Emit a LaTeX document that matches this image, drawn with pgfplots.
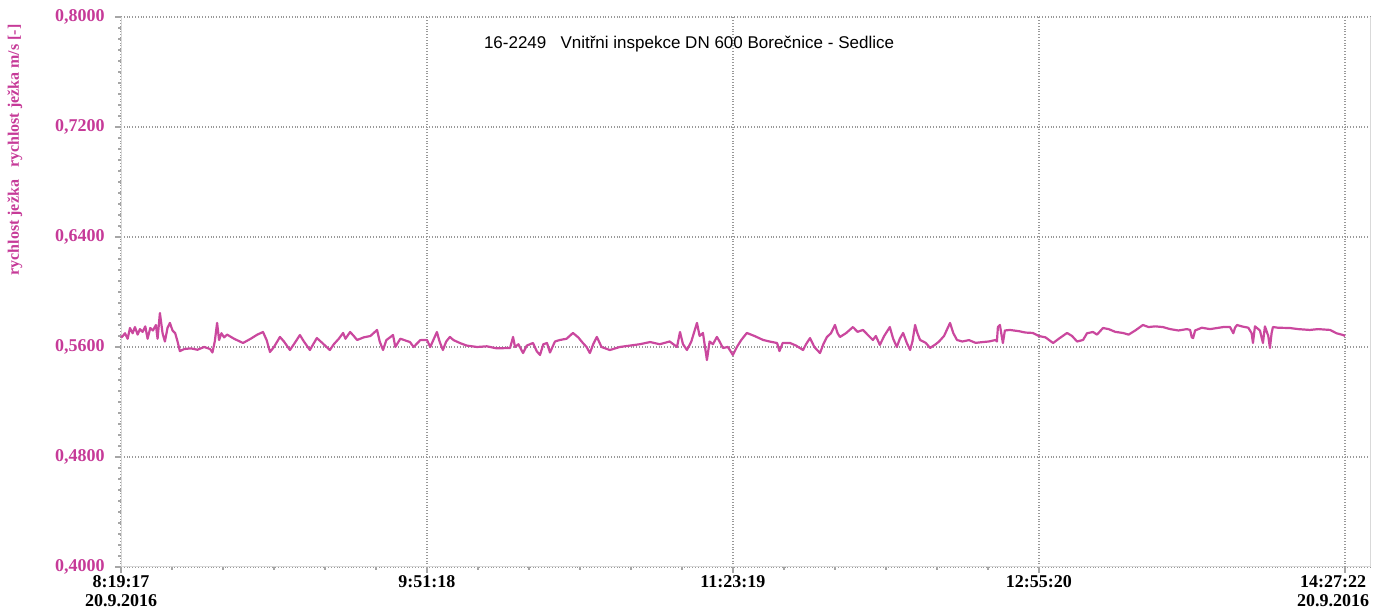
\documentclass[border=0pt]{standalone}
\usepackage{fontspec}
\setmainfont{Liberation Serif}
\newfontfamily\arial{Liberation Sans}
\usepackage{pgfplots}
\pgfplotsset{compat=1.18}
\definecolor{linecol}{RGB}{202,72,158}
\definecolor{labcol}{RGB}{198,58,152}
\begin{document}
\begin{tikzpicture}
\begin{axis}[
  scale only axis,
  width=624.5pt, height=275pt,
  xmin=0, xmax=375.6, ymin=0.4, ymax=0.8,
  xtick={0,92.0167,184.0333,276.05},
  xticklabels={{8:19:17\\20.9.2016},{9:51:18},{11:23:19},{12:55:20}},
  extra x ticks={368.0833},
  extra x tick labels={{14:27:22\\20.9.2016}},
  extra x tick style={grid=major, xticklabel style={xshift=-6pt}},
  xticklabel style={align=center, font=\fontsize{9}{9.5}\selectfont\bfseries, text=black, inner sep=1pt},
  ytick={0.4,0.48,0.56,0.64,0.72,0.8},
  yticklabels={{0,4000},{0,4800},{0,5600},{0,6400},{0,7200},{0,8000}},
  yticklabel style={font=\fontsize{9}{9}\selectfont\bfseries, text=labcol, inner sep=5pt},
  minor x tick num=5, minor y tick num=9,
  tick align=outside,
  major tick length=3pt, minor tick length=1.3pt,
  tick style={gray!70, line width=0.6pt},
  axis line style={gray!30, line width=0.5pt},
  axis x line*=bottom, axis y line*=left,
  xmajorgrids, ymajorgrids,
  major grid style={densely dotted, gray!80, line width=0.6pt},
  clip=false,
]
\addplot[linecol, line width=1.1pt, line join=round] coordinates {
(0.0,0.5680) (0.3,0.5673) (1.2,0.5700) (2.0,0.5660) (2.7,0.5738) (3.5,0.5700) (4.2,0.5745) (5.0,0.5690) (5.7,0.5730) (6.5,0.5710) (7.3,0.5750) (8.0,0.5660) (8.8,0.5738) (9.6,0.5720) (10.5,0.5760) (11.0,0.5660) (11.7,0.5847) (12.5,0.5700) (13.2,0.5640) (14.0,0.5740) (14.7,0.5775) (15.5,0.5720) (16.3,0.5700) (17.0,0.5640) (17.7,0.5570) (19.0,0.5585) (21.0,0.5590) (23.0,0.5580) (25.0,0.5600) (26.8,0.5585) (27.5,0.5560) (28.2,0.5640) (28.9,0.5775) (29.5,0.5650) (30.2,0.5700) (31.0,0.5670) (31.9,0.5690) (34.0,0.5660) (36.7,0.5629) (39.0,0.5660) (41.0,0.5690) (42.7,0.5709) (43.8,0.5650) (44.8,0.5564) (46.0,0.5600) (47.8,0.5673) (49.0,0.5640) (50.8,0.5578) (52.0,0.5620) (53.8,0.5687) (55.0,0.5640) (56.8,0.5578) (57.8,0.5620) (58.9,0.5665) (60.5,0.5630) (62.8,0.5578) (64.0,0.5620) (65.5,0.5660) (66.8,0.5702) (67.5,0.5660) (68.9,0.5709) (70.0,0.5680) (71.0,0.5651) (73.0,0.5670) (75.0,0.5680) (77.0,0.5724) (77.8,0.5640) (78.8,0.5578) (79.8,0.5650) (81.8,0.5687) (82.5,0.5600) (84.0,0.5660) (86.9,0.5636) (88.0,0.5600) (90.0,0.5650) (92.0,0.5651) (93.0,0.5600) (95.0,0.5709) (95.8,0.5640) (96.8,0.5578) (97.8,0.5640) (98.9,0.5673) (100.0,0.5650) (101.9,0.5629) (104.0,0.5610) (107.1,0.5600) (110.0,0.5605) (113.0,0.5590) (117.0,0.5593) (117.9,0.5673) (118.5,0.5600) (119.5,0.5620) (120.9,0.5556) (122.0,0.5610) (123.9,0.5629) (125.0,0.5570) (126.0,0.5542) (127.0,0.5620) (128.1,0.5629) (129.0,0.5560) (130.5,0.5640) (132.0,0.5651) (134.0,0.5660) (135.9,0.5702) (137.5,0.5670) (138.9,0.5629) (140.0,0.5600) (141.0,0.5556) (142.0,0.5620) (143.1,0.5673) (144.5,0.5600) (147.0,0.5578) (150.0,0.5600) (153.0,0.5610) (156.0,0.5620) (159.1,0.5636) (162.0,0.5620) (165.0,0.5640) (167.2,0.5600) (168.1,0.5709) (169.0,0.5620) (170.2,0.5578) (171.5,0.5640) (173.2,0.5775) (174.0,0.5680) (175.0,0.5702) (176.2,0.5505) (177.0,0.5640) (178.0,0.5620) (179.2,0.5673) (180.0,0.5640) (181.0,0.5593) (182.5,0.5600) (184.0,0.5542) (185.2,0.5600) (186.5,0.5650) (188.2,0.5702) (190.5,0.5680) (193.1,0.5651) (195.0,0.5640) (197.3,0.5629) (198.0,0.5570) (199.0,0.5630) (201.2,0.5629) (203.0,0.5610) (205.1,0.5578) (206.0,0.5620) (207.2,0.5665) (208.5,0.5600) (210.2,0.5556) (211.2,0.5620) (212.3,0.5673) (213.5,0.5700) (214.7,0.5760) (215.5,0.5700) (216.2,0.5673) (218.0,0.5700) (220.1,0.5745) (221.5,0.5710) (223.1,0.5724) (224.5,0.5690) (226.1,0.5651) (227.0,0.5680) (228.2,0.5615) (229.5,0.5680) (231.2,0.5745) (232.2,0.5660) (233.3,0.5600) (234.2,0.5660) (235.2,0.5702) (236.3,0.5630) (237.3,0.5578) (238.0,0.5640) (238.8,0.5760) (239.5,0.5700) (240.3,0.5651) (242.0,0.5630) (243.3,0.5593) (245.0,0.5620) (246.0,0.5640) (247.5,0.5680) (249.3,0.5775) (250.3,0.5700) (251.4,0.5651) (253.0,0.5640) (255.0,0.5650) (257.0,0.5630) (259.2,0.5636) (261.0,0.5640) (263.0,0.5651) (263.4,0.5640) (263.7,0.5745) (264.3,0.5760) (265.2,0.5629) (265.8,0.5720) (267.3,0.5724) (270.0,0.5715) (272.0,0.5705) (274.2,0.5702) (276.0,0.5680) (278.0,0.5670) (280.3,0.5629) (282.0,0.5660) (284.5,0.5702) (286.0,0.5680) (287.5,0.5640) (289.3,0.5651) (290.5,0.5700) (292.3,0.5709) (293.5,0.5690) (295.3,0.5738) (297.0,0.5730) (299.0,0.5710) (301.3,0.5702) (303.0,0.5690) (305.0,0.5720) (307.3,0.5760) (309.0,0.5745) (311.0,0.5750) (313.3,0.5745) (315.5,0.5730) (318.0,0.5720) (320.5,0.5730) (321.5,0.5724) (322.0,0.5670) (322.4,0.5665) (323.0,0.5720) (325.0,0.5740) (327.5,0.5730) (329.6,0.5738) (331.5,0.5745) (333.5,0.5745) (334.5,0.5700) (335.0,0.5740) (335.6,0.5760) (337.0,0.5750) (339.0,0.5740) (340.0,0.5700) (340.4,0.5629) (341.0,0.5750) (342.5,0.5720) (343.4,0.5629) (344.0,0.5750) (345.0,0.5680) (345.5,0.5593) (346.0,0.5700) (346.4,0.5745) (348.0,0.5740) (351.5,0.5738) (354.0,0.5730) (357.5,0.5724) (360.0,0.5730) (363.6,0.5724) (365.5,0.5700) (367.5,0.5687) (368.1,0.5680)
};
\draw[gray!30, line width=0.5pt] (rel axis cs:1,0) -- (rel axis cs:1,1);
\node[font=\arial\fontsize{8.5}{10}\selectfont, text=black] at (rel axis cs:0.4548,0.95) {16-2249\ \ \ Vnitřni inspekce DN 600 Borečnice - Sedlice};
\end{axis}
\node[rotate=90, font=\fontsize{8}{8}\selectfont\bfseries, text=labcol] at ([shift={(-53pt,-66.5pt)}]current axis.north west) {rychlost ježka\ \ \ rychlost ježka m/s [-]};
\pgfresetboundingbox
\path ([shift={(-60.5pt,-23pt)}]current axis.south west) rectangle ([shift={(4.5pt,8.5pt)}]current axis.north east);
\end{tikzpicture}
\end{document}
